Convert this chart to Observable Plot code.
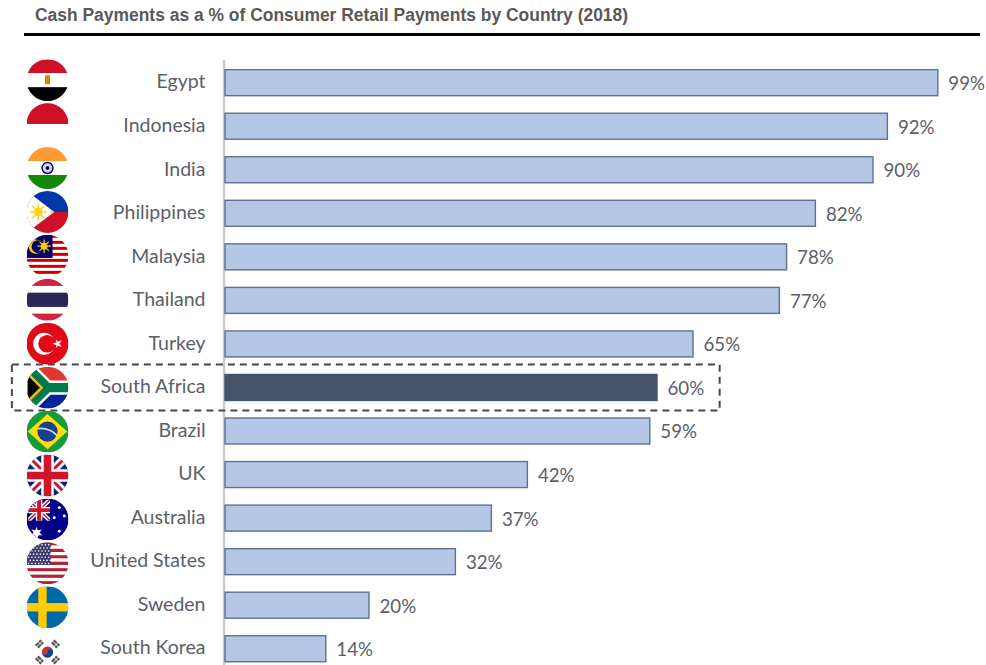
<!DOCTYPE html>
<html>
<head>
<meta charset="utf-8">
<script src="https://cdn.jsdelivr.net/npm/d3@7"></script>
<script src="https://cdn.jsdelivr.net/npm/@observablehq/plot@0.6"></script>
<style>
  html, body { margin: 0; padding: 0; background: #fff; }
  #page { width: 986px; height: 665px; overflow: hidden; position: relative; }
  #title {
    position: absolute; left: 35px; top: 5px;
    font: bold 17.45px "Liberation Sans", Arial, sans-serif; color: #595959;
    white-space: nowrap;
  }
  #rule { position: absolute; left: 24px; width: 956px; top: 33px; height: 3px; background: #000; }
  #chart { position: absolute; left: 0; top: 36px; }
  svg { display: block; }
</style>
</head>
<body>
<div id="page">
  <div id="title">Cash Payments as a % of Consumer Retail Payments by Country (2018)</div>
  <div id="rule"></div>
  <div id="chart"></div>
</div>
<script>
const countries = ["Egypt", "Indonesia", "India", "Philippines", "Malaysia", "Thailand", "Turkey",
  "South Africa", "Brazil", "UK", "Australia", "United States", "Sweden", "South Korea"];
const cashShare = [99, 92, 90, 82, 78, 77, 65, 60, 59, 42, 37, 32, 20, 14];
const highlighted = "South Africa";

const colors = {bar: "#b4c7e7", barEdge: "#5f7091", focus: "#44546a", text: "#5a6068", axis: "#cbcbcb", box: "#484848"};

// Small round-flag artwork, each on a 100x100 canvas.
const stripes = (cols) => cols.map((c, i) =>
  `<rect y="${i * 100 / cols.length}" width="100" height="${100 / cols.length + 0.2}" fill="${c}"/>`).join("");
const starField = (x0, y0, nx, ny, dx, dy, r) => {
  let s = "";
  for (let j = 0; j < ny; j++) for (let i = 0; i < nx; i++)
    s += `<circle cx="${x0 + i * dx + (j % 2) * dx / 2}" cy="${y0 + j * dy}" r="${r}" fill="#fff"/>`;
  return s;
};
const unionJack = `
  <rect width="100" height="100" fill="#00247d"/>
  <path d="M0 0L100 100M100 0L0 100" stroke="#fff" stroke-width="20"/>
  <path d="M0 0L100 100M100 0L0 100" stroke="#cf142b" stroke-width="7"/>
  <path d="M50 0V100M0 50H100" stroke="#fff" stroke-width="30"/>
  <path d="M50 0V100M0 50H100" stroke="#cf142b" stroke-width="18"/>`;

const flagArt = [
  // Egypt
  stripes(["#ce1126", "#ffffff", "#000000"]) + `<rect x="44" y="38" width="12" height="22" rx="2" fill="#c09300"/>`,
  // Indonesia
  stripes(["#ce1126", "#ffffff"]),
  // India
  stripes(["#ff9933", "#ffffff", "#138808"]) + `<circle cx="50" cy="50" r="13" fill="#fff" stroke="#000080" stroke-width="3.5"/><circle cx="50" cy="50" r="5" fill="#000080"/><circle cx="50" cy="50" r="9" fill="none" stroke="#000080" stroke-width="1.5" stroke-dasharray="1.5 1.5"/>`,
  // Philippines
  stripes(["#0038a8", "#ce1126"]) + `<path d="M0 0L66 50L0 100Z" fill="#fff"/><circle cx="28" cy="50" r="10" fill="#fcd116"/><path d="M28 30V70M8 50H48M14 36L42 64M42 36L14 64" stroke="#fcd116" stroke-width="3.5"/><circle cx="60" cy="50" r="3" fill="#fcd116"/>`,
  // Malaysia
  stripes(["#cc0001", "#fff", "#cc0001", "#fff", "#cc0001", "#fff", "#cc0001", "#fff", "#cc0001", "#fff", "#cc0001", "#fff", "#cc0001", "#fff"]) +
    `<rect width="62" height="55" fill="#010066"/><circle cx="22" cy="28" r="17" fill="#ffcc00"/><circle cx="27" cy="28" r="15" fill="#010066"/><circle cx="42" cy="27" r="8" fill="#ffcc00"/><path d="M42 11V43M26 27H58M31 16L53 38M53 16L31 38" stroke="#ffcc00" stroke-width="3"/>`,
  // Thailand
  `<rect width="100" height="100" fill="#fff"/><rect width="100" height="17" fill="#d0263f"/><rect y="83" width="100" height="17" fill="#d0263f"/><rect y="33" width="100" height="34" fill="#2a2658"/>`,
  // Turkey
  `<rect width="100" height="100" fill="#e30a17"/><circle cx="42" cy="50" r="26" fill="#fff"/><circle cx="49" cy="50" r="21" fill="#e30a17"/><path d="M62 50L84 42L71 60L71 40L84 58Z" fill="#fff"/>`,
  // South Africa
  `<rect width="100" height="50" fill="#de3831"/><rect y="50" width="100" height="50" fill="#002395"/>
   <path d="M0 0L50 50L0 100" fill="none" stroke="#fff" stroke-width="34"/>
   <path d="M50 50H100" stroke="#fff" stroke-width="34"/>
   <path d="M0 0L50 50H100M50 50L0 100" fill="none" stroke="#007a4d" stroke-width="22"/>
   <path d="M0 14L36 50L0 86Z" fill="#000" stroke="#ffb612" stroke-width="6"/>`,
  // Brazil
  `<rect width="100" height="100" fill="#179b3a"/><path d="M50 8L97 50L50 92L3 50Z" fill="#fedf00"/><circle cx="50" cy="50" r="24" fill="#1a3f8f"/><path d="M27 43Q55 40 73 60" fill="none" stroke="#cfd8e8" stroke-width="4"/>`,
  // UK
  unionJack,
  // Australia
  `<rect width="100" height="100" fill="#00008b"/><svg width="52" height="50" viewBox="0 0 100 100" preserveAspectRatio="none" y="3" x="4">${unionJack.replace('fill="#00247d"', 'fill="#00008b"')}</svg>
   <path d="M24 68L27 76L36 74L31 82L38 88L29 88L24 97L19 88L10 88L17 82L12 74L21 76Z" fill="#fff"/>
   <circle cx="78" cy="22" r="3.5" fill="#fff"/><circle cx="66" cy="46" r="3.5" fill="#fff"/><circle cx="90" cy="42" r="3.5" fill="#fff"/><circle cx="78" cy="78" r="3.5" fill="#fff"/>`,
  // United States
  stripes(["#b22234", "#fff", "#b22234", "#fff", "#b22234", "#fff", "#b22234", "#fff", "#b22234", "#fff", "#b22234", "#fff", "#b22234"]) +
    `<rect width="58" height="54" fill="#3c3b6e"/>` + starField(5, 6, 7, 7, 8, 7.4, 1.9),
  // Sweden
  `<rect width="100" height="100" fill="#006aa7"/><rect x="28" width="20" height="100" fill="#fecc00"/><rect y="40" width="100" height="20" fill="#fecc00"/>`,
  // South Korea
  `<rect width="100" height="100" fill="#fff"/><g transform="translate(50 52) scale(.74) translate(-50 -50)"><circle cx="50" cy="50" r="18" fill="#cd2e3a"/><path d="M32 50A9 9 0 0 0 50 50A9 9 0 0 1 68 50A18 18 0 0 1 32 50Z" fill="#0047a0"/>
   <g stroke="#555" stroke-width="7" stroke-dasharray="14 2"><path d="M12 30L30 12M19 36L36 19"/><path d="M70 12L88 30M64 19L81 36"/><path d="M12 70L30 88M19 64L36 81"/><path d="M70 88L88 70M64 81L81 64"/></g></g>`
];
const flagSrc = (art) => "data:image/svg+xml," + encodeURIComponent(
  `<svg xmlns="http://www.w3.org/2000/svg" viewBox="0 0 100 100" width="126" height="126" preserveAspectRatio="none">${art}</svg>`);

const rows = countries.map((country, i) => ({country, share: cashShare[i], art: flagArt[i], i}));

const chart = Plot.plot({
  width: 986,
  height: 629,
  marginTop: 24,
  marginBottom: 0,
  marginLeft: 0,
  marginRight: 0,
  x: {domain: [-225 / 7.2, 761 / 7.2], range: [0, 986], axis: null},
  y: {domain: countries, range: [24.9, 634.5], round: false, paddingInner: 0.403, paddingOuter: 0.2015, axis: null},
  marks: [
    Plot.ruleX([0], {dx: -1.5, stroke: colors.axis, strokeWidth: 2.5}),
    Plot.barX(rows, {
      x: "share", y: "country",
      fill: d => d.country === highlighted ? colors.focus : colors.bar,
      stroke: d => d.country === highlighted ? colors.focus : colors.barEdge,
      strokeWidth: 1.4
    }),
    // Dashed box around the highlighted row, from the flag column past its value label.
    Plot.barX([highlighted], {
      x1: () => -29.6, x2: () => 68.7, y: d => d,
      insetTop: -10, insetBottom: -10,
      fill: "none", stroke: colors.box, strokeWidth: 2, strokeDasharray: "7 5"
    }),
    Plot.text(rows, {
      x: () => 0, y: "country", text: "country", textAnchor: "end", dx: -20, dy: -1,
      fill: colors.text, fontFamily: "Lato", fontSize: 19.5
    }),
    Plot.text(rows, {
      x: "share", y: "country", text: d => d.share + "%", textAnchor: "start", dx: 10, dy: 1,
      fill: colors.text, fontFamily: "Lato", fontSize: 18.7
    }),
    // Flag column: its spacing is slightly wider than the bar rows, so each is nudged.
    ...rows.map(d => Plot.image([d], {
      frameAnchor: "left", dx: 47, y: "country", dy: -3 + d.i * 0.38,
      src: r => flagSrc(r.art), r: 21, width: 42, height: 42, preserveAspectRatio: "none"
    }))
  ]
});
document.getElementById("chart").append(chart);
</script>
</body>
</html>
